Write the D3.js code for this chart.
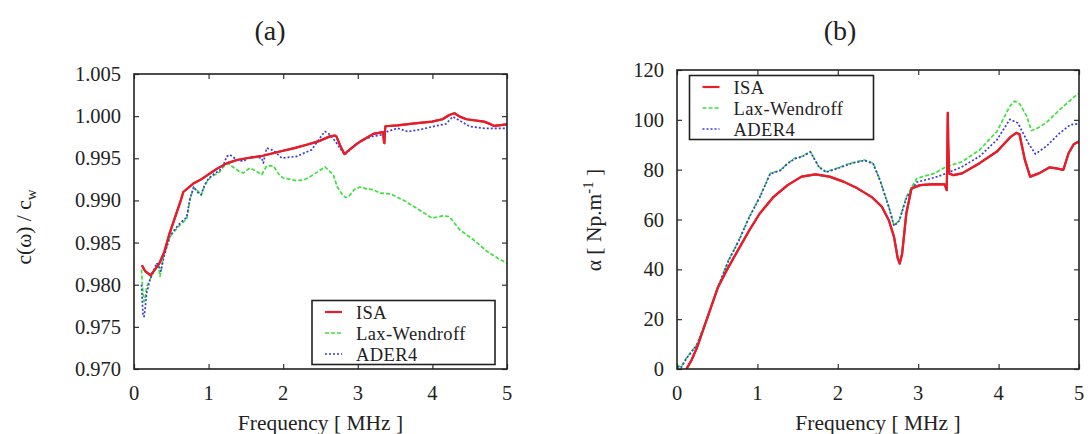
<!DOCTYPE html>
<html><head><meta charset="utf-8">
<script src="https://cdn.jsdelivr.net/npm/d3@7"></script>
<style>
html,body{margin:0;padding:0;background:#fff;}
svg text{font-family:"Liberation Serif","Times New Roman",serif;fill:#222;}
</style></head>
<body><svg id="c" width="1090" height="434"></svg>
<script>
// ---------- data ----------
const seriesNames = ["ISA", "Lax-Wendroff", "ADER4"];
const xTicks = [0, 1, 2, 3, 4, 5];
const yTicksA = [0.970, 0.975, 0.980, 0.985, 0.990, 0.995, 1.000, 1.005];
const yTicksB = [0, 20, 40, 60, 80, 100, 120];

// (a) phase velocity ratio  [frequency MHz, c/cw]
const isaA = [[0.106,0.9823],[0.15,0.9816],[0.222,0.9811],[0.28,0.9818],[0.338,0.9825],[0.407,0.9839],[0.477,0.9861],[0.55,0.9880],[0.616,0.9897],[0.661,0.9910],[0.70,0.9913],[0.795,0.9920],[0.90,0.9925],[1.019,0.9932],[1.12,0.9938],[1.243,0.9944],[1.38,0.9948],[1.51,0.9950],[1.727,0.9953],[1.957,0.9958],[2.15,0.9962],[2.315,0.9966],[2.468,0.9970],[2.627,0.9976],[2.69,0.9977],[2.713,0.9976],[2.769,0.9964],[2.82,0.9955],[2.90,0.9961],[3.0,0.9968],[3.074,0.9972],[3.208,0.9979],[3.338,0.9981],[3.348,0.9972],[3.356,0.9968],[3.362,0.9980],[3.370,0.9988],[3.532,0.9989],[3.764,0.99915],[3.995,0.99935],[4.134,0.99963],[4.227,1.00014],[4.296,1.00034],[4.366,0.99994],[4.458,0.99963],[4.69,0.99935],[4.78,0.99905],[4.829,0.99884],[5.0,0.99903]];
const lwA = [[0.10,0.9818],[0.12,0.9790],[0.134,0.9780],[0.147,0.9782],[0.17,0.9798],[0.214,0.9806],[0.28,0.9818],[0.326,0.9824],[0.349,0.9810],[0.39,0.9832],[0.483,0.9857],[0.55,0.9864],[0.617,0.9871],[0.706,0.9878],[0.75,0.9901],[0.80,0.9915],[0.86,0.9911],[0.90,0.9906],[0.95,0.9918],[1.0,0.9925],[1.05,0.9929],[1.10,0.9931],[1.15,0.9934],[1.20,0.9940],[1.264,0.9944],[1.35,0.9938],[1.403,0.9935],[1.466,0.99325],[1.555,0.99385],[1.634,0.9935],[1.712,0.99305],[1.778,0.9941],[1.868,0.9941],[1.95,0.9930],[2.0,0.99266],[2.18,0.99235],[2.282,0.99244],[2.404,0.99305],[2.56,0.99397],[2.672,0.99305],[2.722,0.99165],[2.80,0.9906],[2.84,0.99035],[2.873,0.9904],[2.954,0.9913],[3.03,0.99159],[3.116,0.99137],[3.208,0.99127],[3.301,0.99086],[3.44,0.99078],[3.602,0.99007],[3.81,0.98896],[3.995,0.98789],[4.134,0.98817],[4.227,0.98809],[4.366,0.98651],[4.551,0.98533],[4.736,0.98394],[4.875,0.98315],[5.0,0.98256]];
const aderA = [[0.10,0.9800],[0.12,0.9765],[0.134,0.9762],[0.15,0.9772],[0.17,0.9790],[0.214,0.9806],[0.26,0.9816],[0.304,0.98258],[0.33,0.9822],[0.36,0.9816],[0.40,0.9833],[0.483,0.9858],[0.55,0.9866],[0.617,0.9873],[0.706,0.9880],[0.75,0.9902],[0.80,0.9916],[0.86,0.9909],[0.90,0.9907],[0.95,0.9919],[1.0,0.9926],[1.05,0.9930],[1.10,0.9933],[1.15,0.9936],[1.20,0.9942],[1.243,0.99522],[1.287,0.99542],[1.377,0.99483],[1.466,0.99463],[1.555,0.99522],[1.712,0.99503],[1.734,0.99444],[1.778,0.99622],[1.868,0.99594],[1.98,0.99503],[2.18,0.99522],[2.382,0.99602],[2.50,0.9975],[2.56,0.99819],[2.627,0.9978],[2.70,0.9970],[2.76,0.9962],[2.828,0.99543],[2.95,0.9965],[3.07,0.9972],[3.20,0.9976],[3.34,0.9978],[3.40,0.9982],[3.532,0.99856],[3.671,0.99817],[3.856,0.99844],[4.042,0.99884],[4.181,0.99907],[4.273,0.99994],[4.389,0.99935],[4.505,0.99876],[4.69,0.99856],[5.0,0.99856]];

// (b) attenuation  [frequency MHz, alpha Np/m]
const isaB = [[0.117,0],[0.18,3.5],[0.247,8.5],[0.378,20.6],[0.508,32.7],[0.638,40.8],[0.768,48.2],[0.898,55.6],[1.029,62.4],[1.202,69.1],[1.376,73.8],[1.549,77.2],[1.723,78.1],[1.897,77.2],[2.07,75.2],[2.244,72.5],[2.418,69.1],[2.548,65.1],[2.635,59.7],[2.70,52.9],[2.745,44.5],[2.77,42.3],[2.80,46.2],[2.852,62.4],[2.917,72.5],[3.025,73.8],[3.199,74.2],[3.329,74.1],[3.355,71.8],[3.362,85],[3.368,102.8],[3.374,90],[3.385,78.5],[3.438,77.8],[3.546,78.5],[3.763,82.6],[3.98,87.3],[4.154,93.3],[4.22,94.8],[4.26,94.2],[4.327,83.9],[4.392,77.2],[4.501,78.5],[4.631,80.9],[4.718,80.5],[4.805,79.9],[4.87,86.6],[4.935,90.2],[5.0,91.3]];
const lwB = [[0.0,1.5],[0.05,0.8],[0.117,4.4],[0.247,9.8],[0.378,20.6],[0.508,32.7],[0.638,43.5],[0.768,51.6],[0.898,61.0],[1.029,69.1],[1.159,78.5],[1.289,79.9],[1.376,82.6],[1.463,84.6],[1.549,85.3],[1.658,87.3],[1.766,81.2],[1.853,79.2],[1.983,80.5],[2.157,82.6],[2.331,83.9],[2.439,82.6],[2.526,75.8],[2.635,65.1],[2.70,57.6],[2.765,59.7],[2.852,69.1],[2.982,76.5],[3.199,78.5],[3.351,81.2],[3.546,83.2],[3.763,87.9],[3.98,95.4],[4.14,105.5],[4.20,107.5],[4.26,106.5],[4.349,101.5],[4.408,95.7],[4.458,96.2],[4.588,98.7],[4.761,104.1],[4.968,110.0],[5.0,110.5]];
const aderB = [[0.0,1.0],[0.05,0.5],[0.117,4.2],[0.247,9.6],[0.378,20.5],[0.508,32.8],[0.638,43.3],[0.768,51.4],[0.898,60.8],[1.029,68.9],[1.159,78.3],[1.289,79.7],[1.376,82.4],[1.463,84.4],[1.549,85.1],[1.658,87.1],[1.766,81.0],[1.853,79.0],[1.983,80.3],[2.157,82.4],[2.331,83.7],[2.439,82.4],[2.526,75.6],[2.635,64.9],[2.70,57.4],[2.765,59.5],[2.852,68.5],[2.982,75.0],[3.199,76.8],[3.351,78.5],[3.546,81.2],[3.763,85.3],[3.98,92.0],[4.14,100.2],[4.24,98.7],[4.37,90.6],[4.458,86.3],[4.595,89.4],[4.761,94.7],[4.892,98.0],[5.0,98.5]];

// ---------- drawing ----------
const svg = d3.select("#c");
const colors = ["#e61e2a", "#3ee03e", "#3a3ad6"];
const dashes = [null, "4,2", "2,2"];
const widths = [2.2, 1.7, 1.7];

function panel(cfg) {
  const g = svg.append("g");
  const x = d3.scaleLinear().domain([0, 5]).range([cfg.x0, cfg.x1]);
  const y = d3.scaleLinear().domain(cfg.ydom).range([cfg.y1, cfg.y0]);
  const TL = 5;
  const clipId = "clip" + cfg.id;
  svg.append("clipPath").attr("id", clipId).append("rect")
    .attr("x", cfg.x0).attr("y", cfg.y0).attr("width", cfg.x1 - cfg.x0).attr("height", cfg.y1 - cfg.y0);

  // axes with inward ticks (all four sides)
  const axB = d3.axisBottom(x).tickValues(xTicks).tickSize(-TL).tickFormat("");
  const axT = d3.axisTop(x).tickValues(xTicks).tickSize(-TL).tickFormat("");
  const axL = d3.axisLeft(y).tickValues(cfg.yticks).tickSize(-TL).tickFormat("");
  const axR = d3.axisRight(y).tickValues(cfg.yticks).tickSize(-TL).tickFormat("");
  [[axB, `translate(0,${cfg.y1})`], [axT, `translate(0,${cfg.y0})`], [axL, `translate(${cfg.x0},0)`], [axR, `translate(${cfg.x1},0)`]]
    .forEach(([ax, t]) => {
      const a = g.append("g").attr("transform", t).call(ax);
      a.select(".domain").remove();
      a.selectAll("line").attr("stroke", "#333").attr("stroke-width", 1.2);
    });

  // tick labels
  g.selectAll(".xl").data(xTicks).enter().append("text")
    .attr("x", d => x(d)).attr("y", cfg.y1 + 31).attr("text-anchor", "middle")
    .attr("font-size", 20.5).text(d => d);
  g.selectAll(".yl").data(cfg.yticks).enter().append("text")
    .attr("x", cfg.x0 - 13).attr("y", d => y(d) + 7).attr("text-anchor", "end")
    .attr("font-size", 20.5).text(cfg.yfmt);

  // curves
  const line = d3.line().x(d => x(d[0])).y(d => y(d[1]));
  const lines = g.append("g").attr("clip-path", `url(#${clipId})`);
  cfg.series.forEach((s, i) => {
    lines.append("path").datum(s).attr("d", line).attr("fill", "none")
      .attr("stroke", colors[i]).attr("stroke-width", widths[i])
      .attr("stroke-dasharray", dashes[i]).attr("stroke-linejoin", "round");
  });
  // redraw ISA on top
  lines.append("path").datum(cfg.series[0]).attr("d", line).attr("fill", "none")
    .attr("stroke", colors[0]).attr("stroke-width", widths[0]).attr("stroke-linejoin", "round");

  // frame
  g.append("rect").attr("x", cfg.x0).attr("y", cfg.y0).attr("width", cfg.x1 - cfg.x0)
    .attr("height", cfg.y1 - cfg.y0).attr("fill", "none").attr("stroke", "#222").attr("stroke-width", 1.6);

  // legend
  const L = cfg.legend;
  g.append("rect").attr("x", L.x).attr("y", L.y).attr("width", L.w).attr("height", L.h)
    .attr("fill", "#fff").attr("stroke", "#222").attr("stroke-width", 1.6);
  seriesNames.forEach((n, i) => {
    const yy = L.y + 11.5 + i * 21;
    g.append("line").attr("x1", L.x + 13).attr("x2", L.x + 30).attr("y1", yy).attr("y2", yy)
      .attr("stroke", colors[i]).attr("stroke-width", widths[i]).attr("stroke-dasharray", dashes[i]);
    g.append("text").attr("x", L.x + 44).attr("y", yy + 6.5).attr("font-size", 18.5)
      .attr("textLength", null).text(n).style("letter-spacing", "0.4px");
  });

  // titles
  g.append("text").attr("x", cfg.titleX).attr("y", 40).attr("text-anchor", "middle")
    .attr("font-size", 28).text(cfg.title);
  g.append("text").attr("x", (cfg.x0 + cfg.x1) / 2).attr("y", 430).attr("text-anchor", "middle")
    .attr("font-size", 21.5).text("Frequency [ MHz ]");
  const yl = g.append("text").attr("transform", `translate(${cfg.ylx},${cfg.ylc}) rotate(-90)`)
    .attr("text-anchor", "middle").attr("font-size", 21.5);
  cfg.ylabel(yl);
}

panel({
  id: "a", x0: 134, x1: 507, y0: 74, y1: 369, ydom: [0.970, 1.005], yticks: yTicksA,
  yfmt: d3.format(".3f"), series: [isaA, lwA, aderA],
  legend: { x: 312, y: 300.5, w: 183, h: 64 }, title: "(a)", titleX: 270, ylx: 31, ylc: 227,
  ylabel: t => { t.append("tspan").text("c(\u03c9) / c"); t.append("tspan").attr("font-size", 15).attr("dy", 5).text("w"); }
});
panel({
  id: "b", x0: 677, x1: 1079, y0: 70, y1: 369, ydom: [0, 120], yticks: yTicksB,
  yfmt: d => d, series: [isaB, lwB, aderB],
  legend: { x: 689.5, y: 75.5, w: 184, h: 64 }, title: "(b)", titleX: 840, ylx: 601, ylc: 220,
  ylabel: t => { t.append("tspan").text("\u03b1 [ Np.m"); t.append("tspan").attr("font-size", 15).attr("dy", -8).text("-1"); t.append("tspan").attr("dy", 8).text(" ]"); }
});
</script></body></html>
